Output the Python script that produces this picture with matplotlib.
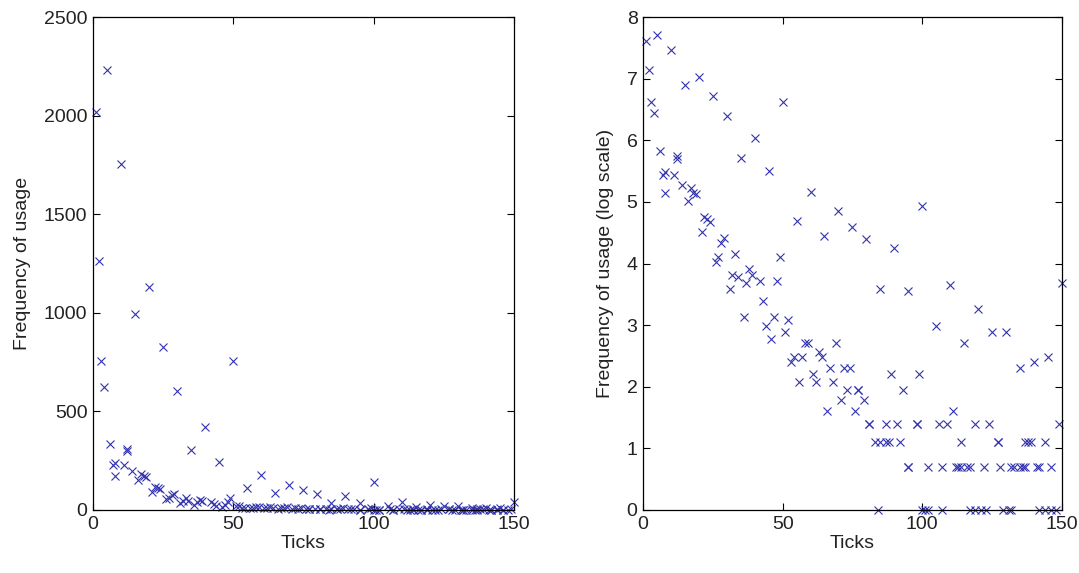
import numpy as np
import matplotlib
matplotlib.use("Agg")
import matplotlib.pyplot as plt

# Tick positions and natural-log frequencies (right panel);
# the left panel shows the same values as raw frequencies.
ticks = [5, 10, 15, 20, 25, 30, 35, 40, 45, 50, 55, 60, 65, 70, 75, 80, 85, 90, 95, 100,
         105, 110, 115, 120, 125, 130, 135, 140, 145, 150,
         1, 2, 3, 4, 6, 7, 8, 8, 11, 12, 12, 14, 16, 17, 18, 19,
         21, 22, 23, 24, 26, 27, 28, 29, 31, 32, 33, 34, 37, 36, 38, 39,
         42, 43, 44, 46, 47, 48, 49, 51, 52, 53, 54, 56, 57, 58, 59,
         61, 62, 63, 64, 66, 67, 68, 69, 71, 72, 73, 74, 76, 77, 77, 79,
         81, 81, 83, 85, 87, 88, 84, 87, 89, 91, 92, 93, 95, 95, 98, 98, 99,
         100, 101, 102, 102, 106, 107, 107, 109, 111,
         112, 113, 114, 116, 117, 114, 117, 119, 121, 123, 119, 122, 124,
         127, 127, 128, 129, 131, 132, 132, 133, 135, 136, 137,
         137, 138, 139, 141, 142, 142, 144, 146, 148, 144, 146, 149]

log_freq = [7.71, 7.47, 6.90, 7.03, 6.72, 6.40, 5.71, 6.04, 5.50, 6.63, 4.69, 5.17, 4.45, 4.85, 4.60,
            4.40, 3.58, 4.25, 3.56, 4.94, 2.99, 3.66, 2.71, 3.26, 2.89, 2.89, 2.30, 2.40, 2.48, 3.69,
            7.61, 7.14, 6.63, 6.44, 5.82, 5.44, 5.48, 5.15, 5.44, 5.74, 5.70, 5.28, 5.02, 5.22, 5.14, 5.13,
            4.51, 4.76, 4.73, 4.68, 4.03, 4.10, 4.34, 4.41, 3.58, 3.81, 4.15, 3.79, 3.68, 3.14, 3.91, 3.81,
            3.71, 3.40, 2.99, 2.77, 3.14, 3.71, 4.11, 2.89, 3.09, 2.40, 2.48, 2.08, 2.48, 2.71, 2.71,
            2.20, 2.08, 2.56, 2.48, 1.61, 2.30, 2.08, 2.71, 1.79, 2.30, 1.95, 2.30, 1.61, 1.95, 1.95, 1.79,
            1.39, 1.39, 1.10, 1.10, 1.10, 1.10, 0.0, 1.39, 2.20, 1.39, 1.10, 1.95, 0.69, 0.69, 1.39, 1.39, 2.20,
            0.0, 0.0, 0.0, 0.69, 1.39, 0.0, 0.69, 1.39, 1.61,
            0.69, 0.69, 0.69, 0.69, 0.69, 1.10, 0.0, 1.39, 0.0, 0.0, 0.0, 0.69, 1.39,
            1.10, 1.10, 0.69, 0.0, 0.0, 0.0, 0.69, 0.69, 0.69, 0.69, 0.69,
            1.10, 1.10, 1.10, 0.69, 0.69, 0.0, 0.0, 0.0, 0.0, 1.10, 0.69, 1.39]

x_ticks = [0, 50, 100, 150]
left_yticks = [0, 500, 1000, 1500, 2000, 2500]
right_yticks = [0, 1, 2, 3, 4, 5, 6, 7, 8]

x = np.array(ticks, dtype=float)
lf = np.array(log_freq, dtype=float)
freq = np.round(np.exp(lf))

plt.rcParams['font.family'] = ['Liberation Sans', 'DejaVu Sans']
fig = plt.figure(figsize=(10.79, 5.73), dpi=100)
ax1 = fig.add_axes([0.0862, 0.110, 0.390, 0.860])
ax2 = fig.add_axes([0.596, 0.110, 0.388, 0.860])

mcolor = (0.20, 0.20, 0.68)
for ax, yv, yt, ylab in [(ax1, freq, left_yticks, 'Frequency of usage'),
                         (ax2, lf, right_yticks, 'Frequency of usage (log scale)')]:
    ax.plot(x, yv, 'x', color=mcolor, markersize=5.5, markeredgewidth=0.8, clip_on=False)
    ax.set_xlim(0, 150)
    ax.set_ylim(yt[0], yt[-1])
    ax.set_xticks(x_ticks)
    ax.set_yticks(yt)
    ax.tick_params(direction='in', top=True, right=True, length=5, width=0.8,
                   labelsize=14, pad=4, labelcolor='#222222')
    for s in ax.spines.values():
        s.set_linewidth(0.9)
    ax.set_xlabel('Ticks', fontsize=14, labelpad=2, color='#222222')
    ax.set_ylabel(ylab, fontsize=14, labelpad=9, color='#222222')

fig.savefig('out.png', dpi=100)
